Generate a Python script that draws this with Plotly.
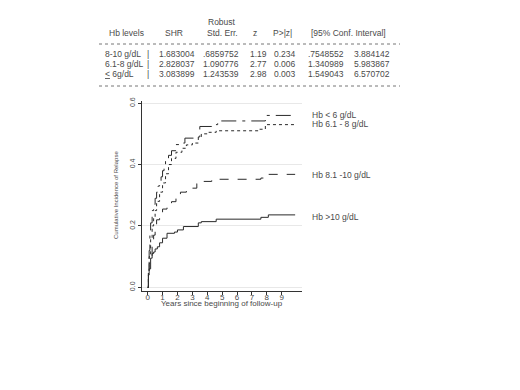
import plotly.graph_objects as go

# ---- data ----
t_lt6 = [0, 0.05, 0.1, 0.15, 0.2, 0.3, 0.4, 0.5, 0.6, 0.7, 0.8, 0.9, 1.0, 1.1, 1.2, 1.4, 1.6, 1.9, 2.2, 2.5, 3.2, 3.5, 4.3, 4.7, 7.9, 9.9]
v_lt6 = [0, 0.06, 0.12, 0.17, 0.21, 0.25, 0.27, 0.29, 0.31, 0.33, 0.345, 0.36, 0.38, 0.40, 0.42, 0.43, 0.445, 0.465, 0.47, 0.486, 0.49, 0.524, 0.53, 0.542, 0.56, 0.56]

t_61_8 = [0, 0.05, 0.1, 0.2, 0.3, 0.4, 0.5, 0.6, 0.8, 1.0, 1.2, 1.4, 1.6, 1.9, 2.3, 2.6, 3.0, 3.4, 3.6, 4.0, 4.6, 7.5, 7.9, 9.9]
v_61_8 = [0, 0.05, 0.1, 0.16, 0.2, 0.23, 0.25, 0.28, 0.31, 0.34, 0.37, 0.40, 0.42, 0.44, 0.453, 0.464, 0.47, 0.49, 0.50, 0.505, 0.51, 0.515, 0.53, 0.53]

t_81_10 = [0, 0.05, 0.1, 0.2, 0.3, 0.4, 0.5, 0.6, 0.8, 1.0, 1.3, 1.6, 1.9, 2.2, 2.6, 2.9, 3.3, 3.7, 4.3, 7.6, 8.1, 9.9]
v_81_10 = [0, 0.03, 0.06, 0.1, 0.14, 0.17, 0.2, 0.22, 0.24, 0.255, 0.268, 0.279, 0.29, 0.31, 0.315, 0.323, 0.338, 0.345, 0.352, 0.356, 0.368, 0.368]

t_gt10 = [0, 0.05, 0.1, 0.2, 0.3, 0.4, 0.5, 0.65, 0.8, 1.0, 1.3, 1.8, 2.0, 2.4, 3.4, 3.6, 4.6, 7.6, 8.1, 9.9]
v_gt10 = [0, 0.04, 0.078, 0.095, 0.11, 0.115, 0.125, 0.132, 0.145, 0.16, 0.176, 0.18, 0.187, 0.198, 0.21, 0.214, 0.222, 0.228, 0.236, 0.236]

series_names = ["Hb &lt; 6 g/dL", "Hb 6.1 - 8 g/dL", "Hb 8.1 -10 g/dL", "Hb &gt;10 g/dL"]
series_t = [t_lt6, t_61_8, t_81_10, t_gt10]
series_v = [v_lt6, v_61_8, v_81_10, v_gt10]
series_dash = ["longdashdot", "dot", "dash", "solid"]

x_ticks = [0, 1, 2, 3, 4, 5, 6, 7, 8, 9]
y_ticks = [0.0, 0.2, 0.4, 0.6]
y_ticklabels = ["0.0", "0.2", "0.4", "0.6"]

table_header = ["Hb levels", "SHR", "Std. Err.", "z", "P&gt;|z|", "[95% Conf. Interval]"]
row_labels = ["8-10 g/dL", "6.1-8 g/dL", "<u>&lt;</u> 6g/dL"]
shr = ["1.683004", "2.828037", "3.083899"]
se = [".6859752", "1.090776", "1.243539"]
zval = ["1.19", "2.77", "2.98"]
pval = ["0.234", "0.006", "0.003"]
ci_lo = [".7548552", "1.340989", "1.549043"]
ci_hi = ["3.884142", "5.983867", "6.570702"]

# ---- layout geometry (page pixels; the page body has an 8px margin) ----
OFF = 8
W, H = 520 - OFF, 390 - OFF
PLOT_L, PLOT_R, PLOT_T, PLOT_B = 142, 302, 101, 291
L, T = PLOT_L - OFF, PLOT_T - OFF
R, B = W - (PLOT_R - OFF), H - (PLOT_B - OFF)
PW, PH = PLOT_R - PLOT_L, PLOT_B - PLOT_T


def px(x):
    return (x - PLOT_L) / PW


def py(y):
    return (PLOT_B - y) / PH


FONT = "Liberation Sans, Arial, sans-serif"
TXT = "#4a4a4a"

fig = go.Figure()
for t, v, d, n in zip(series_t, series_v, series_dash, series_names):
    fig.add_trace(go.Scatter(x=t, y=v, mode="lines", line=dict(shape="hv", dash=d, color="#2a2a2a", width=1),
                             name=n, showlegend=False, hoverinfo="skip"))

ann = []
# curve labels
label_y = [114.5, 123.5, 175, 216.5]
for n, yy in zip(series_names, label_y):
    ann.append(dict(x=px(310), y=py(yy), text=n, xanchor="left", yanchor="middle"))

# axis titles
ann.append(dict(x=px(116), y=py(195), text="Cumulative Incidence of Relapse", textangle=-90,
                xanchor="center", yanchor="middle", font=dict(size=6)))
ann.append(dict(x=px(222), y=py(303.5), text="Years since beginning of follow-up",
                xanchor="center", yanchor="middle", font=dict(size=8)))

# table
hy = 33
ann.append(dict(x=px(106.5), y=py(hy), text=table_header[0], xanchor="left", yanchor="middle"))
ann.append(dict(x=px(174), y=py(hy), text=table_header[1], xanchor="center", yanchor="middle"))
ann.append(dict(x=px(222), y=py(22.5), text="Robust", xanchor="center", yanchor="middle"))
ann.append(dict(x=px(222), y=py(hy), text=table_header[2], xanchor="center", yanchor="middle"))
ann.append(dict(x=px(255), y=py(hy), text=table_header[3], xanchor="center", yanchor="middle"))
ann.append(dict(x=px(282), y=py(hy), text=table_header[4], xanchor="center", yanchor="middle"))
ann.append(dict(x=px(348), y=py(hy), text=table_header[5], xanchor="center", yanchor="middle"))

row_y = [54, 64, 74]
for i, yy in enumerate(row_y):
    ann.append(dict(x=px(103), y=py(yy), text=row_labels[i], xanchor="left", yanchor="middle"))
    ann.append(dict(x=px(148.3), y=py(yy), text="|", xanchor="center", yanchor="middle"))
    for xx, col in [(157, shr), (201, se), (248, zval), (272, pval), (306, ci_lo), (352, ci_hi)]:
        ann.append(dict(x=px(xx), y=py(yy), text=col[i], xanchor="left", yanchor="middle"))

for a in ann:
    a.setdefault("font", dict(size=8.5))
    a["font"] = dict(family=FONT, color=TXT, size=a["font"].get("size", 8.5))
    a.update(xref="paper", yref="paper", showarrow=False)

shapes = []
for yy in [44, 86]:
    shapes.append(dict(type="line", xref="paper", yref="paper", x0=px(99), x1=px(400), y0=py(yy), y1=py(yy),
                       line=dict(color="#777777", width=1, dash="dot")))

fig.update_layout(
    width=W, height=H,
    margin=dict(l=L, r=R, t=T, b=B, pad=0),
    paper_bgcolor="white", plot_bgcolor="white",
    font=dict(family=FONT, color=TXT),
    annotations=ann, shapes=shapes,
    showlegend=False,
)
fig.update_xaxes(range=[-0.38, 10.36], tickvals=x_ticks, ticktext=[str(v) for v in x_ticks],
                 showgrid=False, zeroline=False, showline=True, linecolor="#333333", linewidth=1,
                 ticks="outside", ticklen=3, tickcolor="#333333", ticklabelstandoff=-5,
                 tickfont=dict(size=8, family=FONT, color=TXT))
fig.update_yaxes(range=[-0.012, 0.607], tickvals=y_ticks, ticktext=y_ticklabels, tickangle=-90,
                 showgrid=True, gridcolor="#e8e8e8", gridwidth=1, zeroline=False,
                 showline=True, linecolor="#333333", linewidth=1,
                 ticks="outside", ticklen=3, tickcolor="#333333", tickfont=dict(size=7, family=FONT, color=TXT))

fig.write_html("out.html")
